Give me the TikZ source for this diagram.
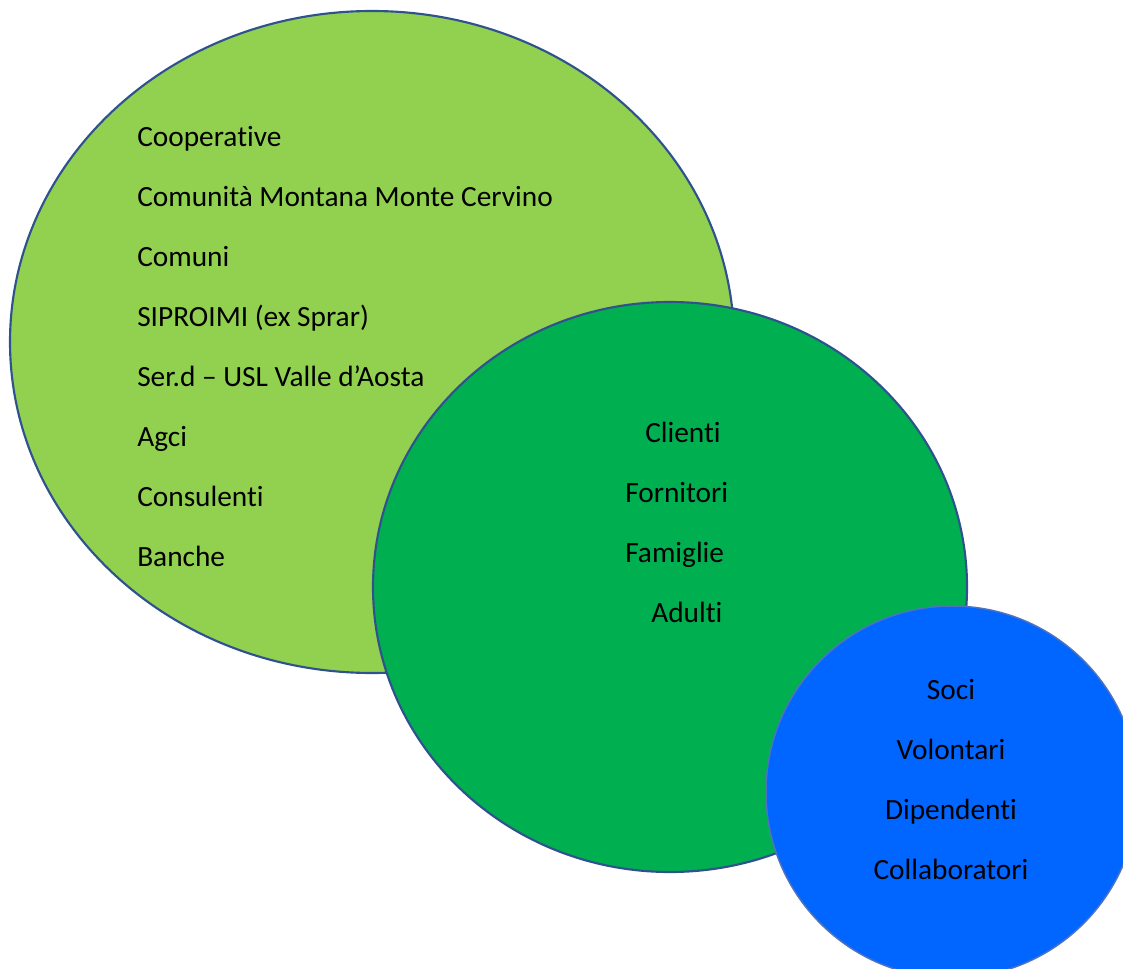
\documentclass[tikz,border=0pt]{standalone}
\usepackage{fontspec}
\setmainfont{Carlito}[Ligatures={NoCommon,NoContextual}]
\usepackage{xcolor}
\usepackage{tikz}

\definecolor{LeafGreen}{RGB}{146,208,80}
\definecolor{MidGreen}{RGB}{0,176,80}
\definecolor{BrightBlue}{RGB}{0,102,255}
\definecolor{EdgeBlue}{RGB}{47,82,143}
\definecolor{SoftEdge}{RGB}{79,115,190}

\begin{document}
\begin{tikzpicture}[x=0.75pt,y=-0.75pt,
  label/.style={inner sep=0pt,font=\fontsize{22}{26}\selectfont}]
%
\path[use as bounding box] (0,0) rectangle (1123,969);
\clip (0,0) rectangle (1123,969);
%
% circles, outer to inner
\draw[fill=LeafGreen,draw=EdgeBlue,line width=1.6pt] (372,342) ellipse [x radius=362, y radius=331];
\draw[fill=MidGreen,draw=EdgeBlue,line width=1.6pt] (670,587) ellipse [x radius=297, y radius=285];
\draw[fill=BrightBlue,draw=SoftEdge,line width=1.1pt] (952,792) ellipse [x radius=186, y radius=186];
%
% outer ring
\foreach \txt [count=\i from 0] in {Cooperative, Comunità Montana Monte Cervino, Comuni,
    SIPROIMI (ex Sprar), Ser.d – USL Valle d’Aosta, Agci, Consulenti, Banche}{
  \node[label,anchor=base west] (ext\i) at (137,146.5+60*\i) {\txt};
}
%
% middle ring
\node[label,anchor=base west] (clienti) at (645,442) {Clienti};
\node[label,anchor=base west] (fornitori) at (625,502) {Fornitori};
\node[label,anchor=base west] (famiglie) at (625,562) {Famiglie};
\node[label,anchor=base west] (adulti) at (651,622) {Adulti};
%
% inner ring
\foreach \txt [count=\i from 0] in {Soci, Volontari, Dipendenti, Collaboratori}{
  \node[label,anchor=base] (int\i) at (951,699+60*\i) {\txt};
}
%
\end{tikzpicture}
\end{document}
